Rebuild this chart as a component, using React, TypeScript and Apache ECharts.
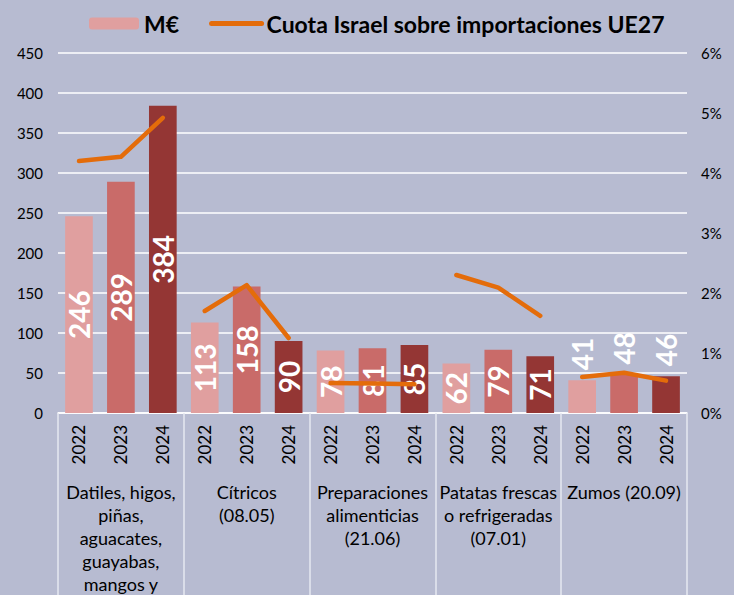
import React, { useEffect, useRef } from "react";
import * as echarts from "echarts";

const groups = [
  "Datiles, higos,\npiñas,\naguacates,\nguayabas,\nmangos y\nmangostanes\n(08.04)",
  "Cítricos\n(08.05)",
  "Preparaciones\nalimenticias\n(21.06)",
  "Patatas frescas\no refrigeradas\n(07.01)",
  "Zumos (20.09)",
];
const years = ["2022", "2023", "2024"];
const valuesMEur = [246, 289, 384, 113, 158, 90, 78, 81, 85, 62, 79, 71, 41, 48, 46];
const shareIsrael = [4.2, 4.27, 4.92, 1.7, 2.13, 1.25, 0.5, 0.49, 0.48, 2.3, 2.09, 1.62, 0.6, 0.67, 0.54];
const yLeftTicks = { min: 0, max: 450, interval: 50 };
const yRightTicks = { min: 0, max: 6, interval: 1 };

const barName = "M€";
const lineName = "Cuota Israel sobre importaciones UE27";
const yearColors = ["#E09F9F", "#C96B69", "#943634"];
const lineColor = "#E46C0A";
const FONT = "Lato, 'Open Sans', sans-serif";

export default function App() {
  const ref = useRef<HTMLDivElement>(null);
  useEffect(() => {
    if (!ref.current) return;
    const chart = echarts.init(ref.current, undefined, { renderer: "svg" });
    const cats = groups.flatMap(() => years);

    const barData = valuesMEur.map((v, i) => {
      const inside = v >= 55;
      return {
        value: v,
        itemStyle: { color: yearColors[i % 3] },
        label: inside
          ? { position: "inside", rotate: 90, align: "center", verticalAlign: "middle" }
          : { position: "top", rotate: 90, align: "left", verticalAlign: "middle", distance: 10 },
      };
    });

    const lineSeries = groups.map((_, g) => ({
      name: lineName,
      type: "line",
      xAxisIndex: 0,
      yAxisIndex: 1,
      symbol: "none",
      connectNulls: false,
      lineStyle: { color: lineColor, width: 4.5, cap: "round", join: "round" },
      itemStyle: { color: lineColor },
      data: shareIsrael.map((v, i) => (Math.floor(i / 3) === g ? v : null)),
      z: 5,
    }));

    chart.setOption({
      animation: false,
      backgroundColor: "#B7BBD1",
      textStyle: { fontFamily: FONT },
      legend: {
        top: 7,
        left: 84,
        itemWidth: 50,
        itemHeight: 12,
        itemGap: 30,
        textStyle: { fontSize: 23, fontWeight: "bold", color: "#000", fontFamily: FONT },
        data: [
          { name: barName, itemStyle: { color: yearColors[0] } },
          {
            name: lineName,
            itemStyle: { opacity: 0 },
            lineStyle: { color: lineColor, width: 5, cap: "round" },
          },
        ],
      },
      grid: {
        left: 58,
        right: 47,
        top: 53,
        bottom: 182,
        containLabel: false,
        outerBoundsMode: "none",
      },
      xAxis: [
        {
          type: "category",
          data: cats,
          position: "bottom",
          axisLine: { show: false },
          axisTick: { show: false },
          axisLabel: {
            interval: 0,
            rotate: 90,
            margin: 12,
            fontSize: 17,
            color: "#000",
            fontFamily: FONT,
          },
        },
        {
          type: "category",
          data: groups,
          position: "bottom",
          axisLine: { show: true, lineStyle: { color: "#FFFFFF", width: 1.5 } },
          axisTick: {
            show: true,
            interval: 0,
            length: 200,
            lineStyle: { color: "#E6E8F0", width: 1.5 },
          },
          axisLabel: {
            interval: 0,
            margin: 67,
            fontSize: 18,
            lineHeight: 23,
            color: "#000",
            align: "center",
            fontFamily: FONT,
          },
        },
      ],
      yAxis: [
        {
          type: "value",
          ...yLeftTicks,
          axisLine: { show: false },
          axisTick: { show: false },
          splitLine: { lineStyle: { color: "#FFFFFF", width: 1.5 } },
          axisLabel: { fontSize: 15, color: "#000", margin: 15, fontFamily: FONT },
        },
        {
          type: "value",
          ...yRightTicks,
          position: "right",
          axisLine: { show: false },
          axisTick: { show: false },
          splitLine: { show: false },
          axisLabel: {
            fontSize: 15,
            color: "#000",
            margin: 14,
            fontFamily: FONT,
            formatter: (v: number) => `${Math.round(v)}%`,
          },
        },
      ],
      series: [
        {
          name: barName,
          type: "bar",
          xAxisIndex: 0,
          yAxisIndex: 0,
          barWidth: "66%",
          data: barData,
          itemStyle: { color: yearColors[0] },
          label: {
            show: true,
            color: "#FFFFFF",
            fontSize: 28,
            fontWeight: "bold",
            fontFamily: FONT,
            formatter: "{c}",
          },
          z: 2,
        },
        ...lineSeries,
      ],
    });
    return () => chart.dispose();
  }, []);
  return (
    <div
      ref={ref}
      style={{ position: "fixed", left: 0, top: 0, width: 734, height: 595 }}
    />
  );
}
